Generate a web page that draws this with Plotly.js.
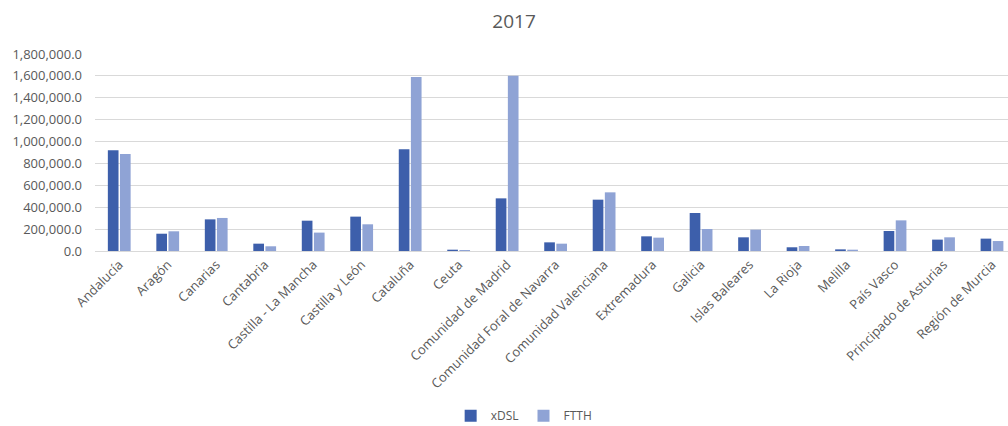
<!DOCTYPE html>
<html>
<head>
<meta charset="utf-8">
<script src="https://cdn.plot.ly/plotly-3.0.1.min.js"></script>
<style>html,body{margin:0;padding:0;background:#fff;overflow:hidden;}</style>
</head>
<body>
<div id="chart" style="width:1008px;height:426px;"></div>
<script>
const regions = ["Andalucía","Aragón","Canarias","Cantabria","Castilla - La Mancha","Castilla y León","Cataluña","Ceuta","Comunidad de Madrid","Comunidad Foral de Navarra","Comunidad Valenciana","Extremadura","Galicia","Islas Baleares","La Rioja","Melilla","País Vasco","Principado de Asturias","Región de Murcia"];
const xdsl = [920000,158000,289000,67000,277000,314000,929000,12000,481000,79000,469000,134000,347000,125000,34000,15000,183000,104000,113000];
const ftth = [886000,180000,302000,43000,168000,244000,1590000,9000,1602000,67000,536000,122000,201000,195000,46000,12000,280000,125000,91000];
const seriesNames = ["xDSL","FTTH"];
const yTicks = [0,200000,400000,600000,800000,1000000,1200000,1400000,1600000,1800000];

const font = {family: "Open Sans, Noto Sans, sans-serif", color: "#595959", size: 13};
const data = [
  {type:"bar", name: seriesNames[0], x: regions, y: xdsl, marker:{color:"#3D5FAB"}},
  {type:"bar", name: seriesNames[1], x: regions, y: ftth, marker:{color:"#8FA3D5"}}
];
const layout = {
  width: 1008, height: 426,
  margin: {l: 95, r: 0, t: 54, b: 175, autoexpand: false},
  paper_bgcolor: "#fff", plot_bgcolor: "#fff",
  font: font,
  title: {text: "2017", font: {family: "Open Sans, sans-serif", size: 19, color: "#595959"}, x: 0.51, xanchor: "center", yref: "container", y: 0.951, yanchor: "middle"},
  barmode: "group", bargap: 0.5, bargroupgap: 0.12,
  xaxis: {type: "category", range: [-0.5, 18.33], tickangle: -45, showgrid: false, showline: true, linecolor: "#d9d9d9", linewidth: 1, ticks: "", tickfont: {size: 13, color: "#595959"}, automargin: false, fixedrange: true},
  yaxis: {range: [0, 1800000], tickvals: yTicks, tickformat: ",.1f", showgrid: true, gridcolor: "#d9d9d9", zeroline: true, zerolinecolor: "#d9d9d9", showline: false, ticks: "", tickfont: {size: 13, color: "#595959"}, ticklabelstandoff: 12, automargin: false, fixedrange: true},
  legend: {orientation: "h", xref: "container", yref: "container", x: 0.52, xanchor: "center", y: 0.024, yanchor: "middle", font: {size: 12, color: "#595959"}, itemwidth: 30},
  showlegend: true
};
Plotly.newPlot("chart", data, layout, {displayModeBar: false, staticPlot: true});
</script>
</body>
</html>
